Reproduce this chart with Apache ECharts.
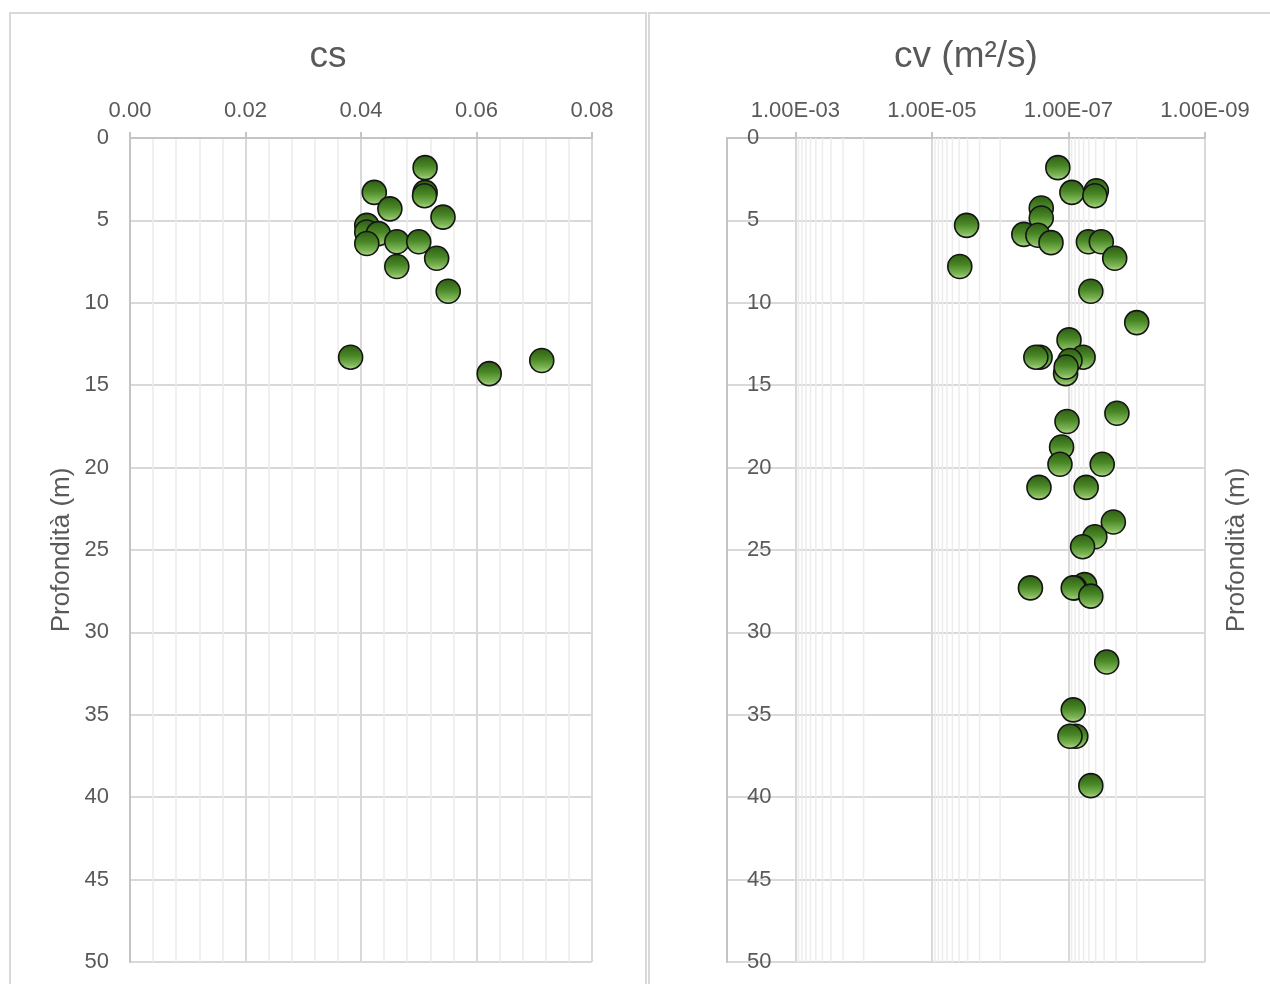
<!DOCTYPE html>
<html>
<head>
<meta charset="utf-8">
<script src="https://cdn.jsdelivr.net/npm/echarts@6/dist/echarts.min.js"></script>
<style>
html,body{margin:0;padding:0;background:#fff;}
#chart{width:1270px;height:984px;}
</style>
</head>
<body>
<div id="chart"></div>
<script>
// ---- data ----
const csValues = [0.0511, 0.0511, 0.0510, 0.0423, 0.0450, 0.0542, 0.0410, 0.0410, 0.0430, 0.0410, 0.0462, 0.0500, 0.0531, 0.0462, 0.0551, 0.0382, 0.0713, 0.0622];
const csDepths = [1.8, 3.3, 3.5, 3.3, 4.3, 4.8, 5.3, 5.7, 5.8, 6.4, 6.3, 6.3, 7.3, 7.8, 9.3, 13.3, 13.5, 14.3];

const cvValues = [1.43e-7, 8.9e-8, 3.9e-8, 4.1e-8, 2.5e-7, 2.5e-7, 3.1e-6, 4.5e-7, 2.8e-7, 1.8e-7, 5.1e-8, 3.3e-8, 2.1e-8, 3.9e-6, 4.7e-8,
  1.0e-8, 9.8e-8, 2.6e-7, 3.0e-7, 6.1e-8, 9.5e-8, 1.1e-7, 1.08e-7, 1.95e-8, 1.05e-7, 1.26e-7, 1.33e-7, 3.2e-8, 2.7e-7, 5.5e-8,
  2.2e-8, 4.1e-8, 6.2e-8, 3.6e-7, 5.8e-8, 8.1e-8, 8.5e-8, 4.7e-8, 2.75e-8, 8.5e-8, 7.8e-8, 9.5e-8, 4.7e-8];
const cvDepths = [1.8, 3.3, 3.2, 3.5, 4.25, 4.85, 5.3, 5.85, 5.9, 6.35, 6.3, 6.3, 7.3, 7.8, 9.3,
  11.2, 12.25, 13.3, 13.3, 13.3, 13.5, 14.3, 13.9, 16.7, 17.2, 18.75, 19.8, 19.8, 21.2, 21.2,
  23.3, 24.2, 24.8, 27.3, 27.1, 27.3, 27.3, 27.8, 31.8, 34.7, 36.3, 36.3, 39.3];

const csTicks = [0, 0.02, 0.04, 0.06, 0.08];
const cvRange = [1e-9, 1e-2];
const depthTicks = [0, 5, 10, 15, 20, 25, 30, 35, 40, 45, 50];

const titleLeft = 'cs';
const titleRight = 'cv (m²/s)';
const depthName = 'Profondità (m)';

// minor log gridlines (k * 10^e inside each two-decade band)
const minorExp = [-4, -6, -8];
const cvMinorLines = [];
minorExp.forEach(e => { for (let k = 1; k <= 9; k++) cvMinorLines.push(k * Math.pow(10, e)); });

// ---- styles ----
const txt = '#595959';
const axisCol = '#c4c4c4';
const majorGrid = '#d9d9d9';
const minorGrid = '#ececec';
const fontFam = '"Liberation Sans", Arial, sans-serif';

const markerStyle = {
  color: new echarts.graphic.LinearGradient(0, 0, 0, 1, [
    {offset: 0, color: '#2c5a12'},
    {offset: 0.45, color: '#4a8826'},
    {offset: 0.8, color: '#80b758'},
    {offset: 1, color: '#b8e096'}
  ]),
  borderColor: '#141414',
  borderWidth: 1.6,
  opacity: 1
};

function fmtExp(v) {
  const e = Math.round(Math.log10(v));
  if (e > -3) return '';
  return '1.00E-' + String(-e).padStart(2, '0');
}

const chart = echarts.init(document.getElementById('chart'), null, {renderer: 'canvas'});

const minorSeries = cvMinorLines.map(v => ({
  type: 'line', xAxisIndex: 1, yAxisIndex: 1,
  data: [[v, depthTicks[0]], [v, depthTicks[depthTicks.length - 1]]],
  symbol: 'none', silent: true, z: 0,
  lineStyle: {color: minorGrid, width: 1.5},
  tooltip: {show: false}
}));

const option = {
  animation: false,
  backgroundColor: '#fff',
  textStyle: {fontFamily: fontFam},
  graphic: [
    {type: 'rect', shape: {x: 10, y: 13, width: 636, height: 1000}, style: {fill: 'none', stroke: '#d9d9d9', lineWidth: 2}, silent: true, z: -10},
    {type: 'rect', shape: {x: 649, y: 13, width: 640, height: 1000}, style: {fill: 'none', stroke: '#d9d9d9', lineWidth: 2}, silent: true, z: -10},
    {type: 'text', x: 328, y: 57, style: {text: titleLeft, fill: txt, font: '37px ' + fontFam, align: 'center', verticalAlign: 'middle'}},
    {type: 'text', x: 966, y: 57, style: {text: titleRight, fill: txt, font: '37px ' + fontFam, align: 'center', verticalAlign: 'middle'}}
  ],
  grid: [
    {left: 130, top: 138, width: 462, height: 824},
    {left: 727, top: 138, width: 478, height: 824}
  ],
  xAxis: [
    {
      gridIndex: 0, type: 'value', position: 'top',
      min: csTicks[0], max: csTicks[csTicks.length - 1], interval: csTicks[1] - csTicks[0],
      axisLine: {show: true, onZero: false, lineStyle: {color: axisCol, width: 2}},
      axisTick: {show: true, length: 6, lineStyle: {color: axisCol, width: 2}},
      axisLabel: {color: txt, fontSize: 22, margin: 16, formatter: v => v.toFixed(2)},
      splitLine: {show: true, lineStyle: {color: majorGrid, width: 2}},
      minorTick: {show: false, splitNumber: 5},
      minorSplitLine: {show: true, lineStyle: {color: minorGrid, width: 1.5}}
    },
    {
      gridIndex: 1, type: 'log', logBase: 10, position: 'top', inverse: true,
      min: cvRange[0], max: cvRange[1], interval: 2,
      axisLine: {show: true, onZero: false, lineStyle: {color: axisCol, width: 2}},
      axisTick: {show: true, length: 6, lineStyle: {color: axisCol, width: 2}},
      axisLabel: {color: txt, fontSize: 22, margin: 16, formatter: fmtExp, showMaxLabel: false},
      splitLine: {show: true, lineStyle: {color: majorGrid, width: 2}},
      minorTick: {show: false},
      minorSplitLine: {show: false}
    }
  ],
  yAxis: [
    {
      gridIndex: 0, type: 'value', inverse: true,
      min: depthTicks[0], max: depthTicks[depthTicks.length - 1], interval: depthTicks[1] - depthTicks[0],
      name: depthName, nameLocation: 'middle', nameGap: 55, nameRotate: 90,
      nameTextStyle: {color: txt, fontSize: 26, fontFamily: fontFam},
      axisLine: {show: true, onZero: false, lineStyle: {color: axisCol, width: 2}},
      axisTick: {show: false},
      axisLabel: {color: txt, fontSize: 22, margin: 21},
      splitLine: {show: true, lineStyle: {color: majorGrid, width: 2}}
    },
    {
      gridIndex: 1, type: 'value', inverse: true,
      min: depthTicks[0], max: depthTicks[depthTicks.length - 1], interval: depthTicks[1] - depthTicks[0],
      axisLine: {show: true, onZero: false, lineStyle: {color: axisCol, width: 2}},
      axisTick: {show: false},
      axisLabel: {color: txt, fontSize: 22, inside: true, margin: 20, align: 'left'},
      splitLine: {show: true, lineStyle: {color: majorGrid, width: 2}}
    },
    {
      gridIndex: 1, type: 'value', inverse: true, position: 'right',
      min: depthTicks[0], max: depthTicks[depthTicks.length - 1],
      name: depthName, nameLocation: 'middle', nameGap: 19, nameRotate: 90,
      nameTextStyle: {color: txt, fontSize: 26, fontFamily: fontFam},
      axisLine: {show: false}, axisTick: {show: false}, axisLabel: {show: false}, splitLine: {show: false}
    }
  ],
  series: minorSeries.concat([
    {
      type: 'scatter', xAxisIndex: 0, yAxisIndex: 0,
      symbol: 'circle', symbolSize: 24, z: 3,
      itemStyle: markerStyle,
      data: csValues.map((v, i) => [v, csDepths[i]])
    },
    {
      type: 'scatter', xAxisIndex: 1, yAxisIndex: 1,
      symbol: 'circle', symbolSize: 24, z: 3,
      itemStyle: markerStyle,
      data: cvValues.map((v, i) => [v, cvDepths[i]])
    }
  ])
};
chart.setOption(option);
</script>
</body>
</html>
